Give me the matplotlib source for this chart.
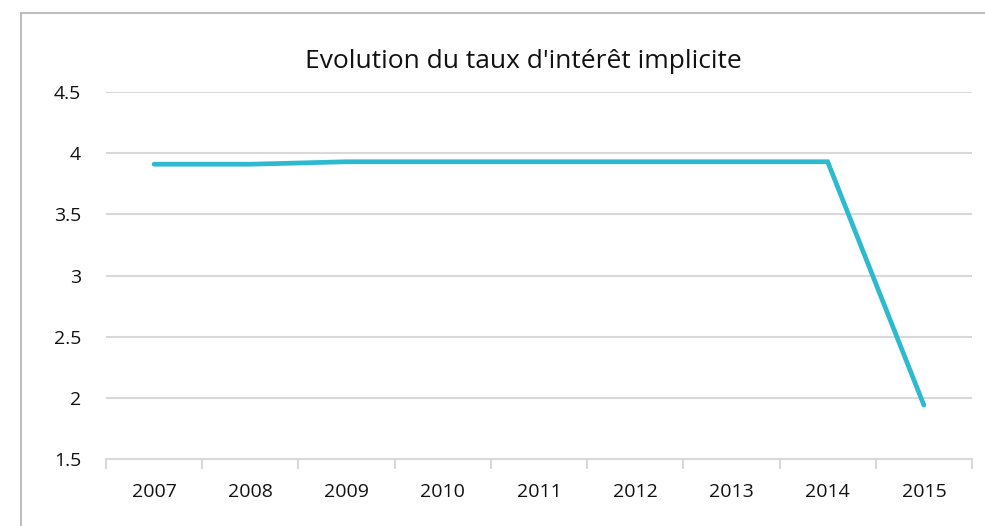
import matplotlib.pyplot as plt
from matplotlib.patches import Rectangle

plt.rcParams['font.family'] = ['Open Sans', 'DejaVu Sans']

years = ['2007', '2008', '2009', '2010', '2011', '2012', '2013', '2014', '2015']
rate = [3.91, 3.91, 3.93, 3.93, 3.93, 3.93, 3.93, 3.93, 1.94]
yticks = [1.5, 2, 2.5, 3, 3.5, 4, 4.5]
ytick_labels = ['1.5', '2', '2.5', '3', '3.5', '4', '4.5']

fig = plt.figure(figsize=(9.85, 5.26), dpi=100)
ax = fig.add_axes([0.1076, 0.1274, 0.8792, 0.6976])

# outer chart frame (cut off at right and bottom like the reference)
fig.patches.append(Rectangle((21 / 985, -0.1), 1.2, 1 - 13 / 526 + 0.1,
                             transform=fig.transFigure, fill=False,
                             edgecolor='#BDBDBD', linewidth=1.5))

x = list(range(len(years)))
ax.plot(x, rate, color='#2DB9CE', linewidth=3.4, solid_capstyle='round',
        solid_joinstyle='miter', zorder=3)

ax.set_xlim(-0.5, len(years) - 0.5)
ax.set_ylim(1.5, 4.5)
ax.set_yticks(yticks)
ax.set_yticklabels(ytick_labels)
ax.set_xticks(x)
ax.set_xticklabels(years)
ax.set_xticks([i - 0.5 for i in range(len(years) + 1)], minor=True)

ax.grid(axis='y', color='#D9D9D9', linewidth=1.5)
ax.set_axisbelow(True)
for s in ['top', 'right', 'left']:
    ax.spines[s].set_visible(False)
ax.spines['bottom'].set_color('#D9D9D9')
ax.spines['bottom'].set_linewidth(1.5)

ax.tick_params(axis='y', length=0, pad=18, labelsize=14, labelcolor='#111111')
ax.tick_params(axis='x', which='major', length=0, pad=17, labelsize=14,
               labelcolor='#111111')
ax.tick_params(axis='x', which='minor', length=7, width=1.5, color='#D9D9D9')

fig.text(0.531, 0.884, "Evolution du taux d'intérêt implicite", ha='center',
         va='center', fontsize=19, color='#111111')

fig.savefig('out.png', dpi=100)
